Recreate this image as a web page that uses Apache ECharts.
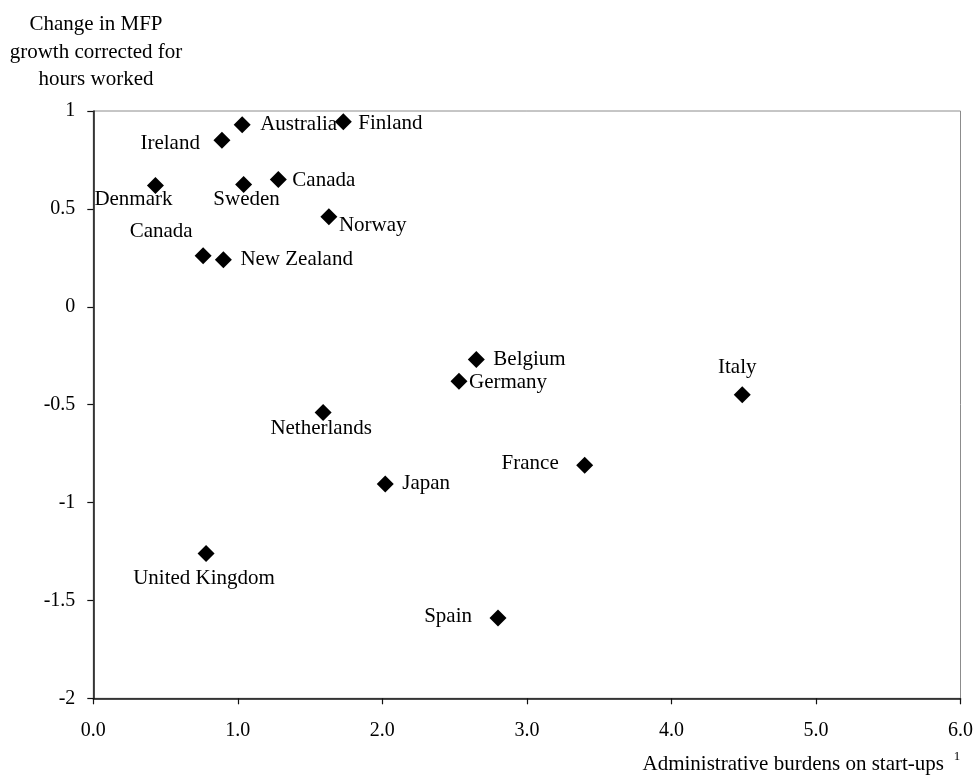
<!DOCTYPE html>
<html>
<head>
<meta charset="utf-8">
<script src="https://cdn.jsdelivr.net/npm/echarts@6/dist/echarts.min.js"></script>
<style>
html,body{margin:0;padding:0;background:#fff;}
#chart{width:976px;height:779px;}
</style>
</head>
<body>
<div id="chart"></div>
<script>
// ---- data ----
var countries = ["Australia","Finland","Ireland","Denmark","Sweden","Canada","Norway","Canada","New Zealand","Belgium","Germany","Italy","Netherlands","France","Japan","United Kingdom","Spain"];
var burdens   = [1.03, 1.73, 0.89, 0.43, 1.04, 1.28, 1.63, 0.76, 0.90, 2.65, 2.53, 4.49, 1.59, 3.40, 2.02, 0.78, 2.80];
var mfpChange = [0.93, 0.945, 0.85, 0.62, 0.625, 0.65, 0.46, 0.26, 0.24, -0.27, -0.38, -0.45, -0.54, -0.81, -0.905, -1.26, -1.59];
var xTicks = [0, 1, 2, 3, 4, 5, 6];
var yTicks = [-2, -1.5, -1, -0.5, 0, 0.5, 1];

// label placement (style only): [align, dx, dy]
var labelPlacement = [
  ["left", 18, 0], ["left", 15, 2], ["right", -22, 3], ["center", -22, 14],
  ["center", 3, 15], ["left", 14, 1], ["left", 10, 9], ["center", -42, -24],
  ["left", 17, 0], ["left", 17, 0], ["left", 10, 1], ["center", -5, -27],
  ["center", -2, 16], ["right", -26, -2], ["left", 17, 0], ["center", -2, 25],
  ["right", -26, -2]
];

var FONT = "'Liberation Serif','Times New Roman',serif";
var chart = echarts.init(document.getElementById('chart'), null, {renderer: 'canvas'});

var points = countries.map(function (c, i) {
  var p = labelPlacement[i];
  return {
    name: c,
    value: [burdens[i], mfpChange[i]],
    label: { show: true, position: 'inside', align: p[0], verticalAlign: 'middle', offset: [p[1], p[2]] }
  };
});

chart.setOption({
  animation: false,
  backgroundColor: '#fff',
  textStyle: { fontFamily: FONT },
  grid: {
    left: 93.3, right: 14.3, top: 111, bottom: 80.7,
    show: true, borderColor: '#8c8c8c', borderWidth: 1, backgroundColor: 'transparent'
  },
  xAxis: {
    type: 'value', min: xTicks[0], max: xTicks[xTicks.length - 1], interval: 1,
    axisLine: { show: true, onZero: false, lineStyle: { color: '#111', width: 1.5 } },
    axisTick: { show: true, length: 6, inside: false, lineStyle: { color: '#111', width: 1.2 } },
    axisLabel: { color: '#000', fontSize: 20, fontFamily: FONT, margin: 22,
      formatter: function (v) { return v.toFixed(1); } },
    splitLine: { show: false }
  },
  yAxis: {
    type: 'value', min: yTicks[0], max: yTicks[yTicks.length - 1], interval: 0.5,
    axisLine: { show: true, onZero: false, lineStyle: { color: '#111', width: 1.5 } },
    axisTick: { show: true, length: 6, inside: false, lineStyle: { color: '#111', width: 1.2 } },
    axisLabel: { color: '#000', fontSize: 20, fontFamily: FONT, margin: 18 },
    splitLine: { show: false }
  },
  series: [{
    type: 'scatter',
    symbol: 'diamond',
    symbolSize: 17,
    itemStyle: { color: '#000', opacity: 1 },
    label: {
      color: '#000', fontSize: 21, fontFamily: FONT,
      formatter: function (p) { return p.name; }
    },
    data: points
  }],
  graphic: [
    {
      type: 'text', x: 96, y: 11,
      style: {
        text: 'Change in MFP\ngrowth corrected for\nhours worked',
        fill: '#000', font: '21px ' + FONT, lineHeight: 27.5,
        align: 'center', verticalAlign: 'top'
      }
    },
    {
      type: 'text', x: 944, y: 764,
      style: {
        text: 'Administrative burdens on start-ups',
        fill: '#000', font: '21px ' + FONT, align: 'right', verticalAlign: 'middle'
      }
    },
    {
      type: 'text', x: 957, y: 757,
      style: {
        text: '1', fill: '#000', font: '13px ' + FONT, align: 'center', verticalAlign: 'middle'
      }
    }
  ]
});
</script>
</body>
</html>
